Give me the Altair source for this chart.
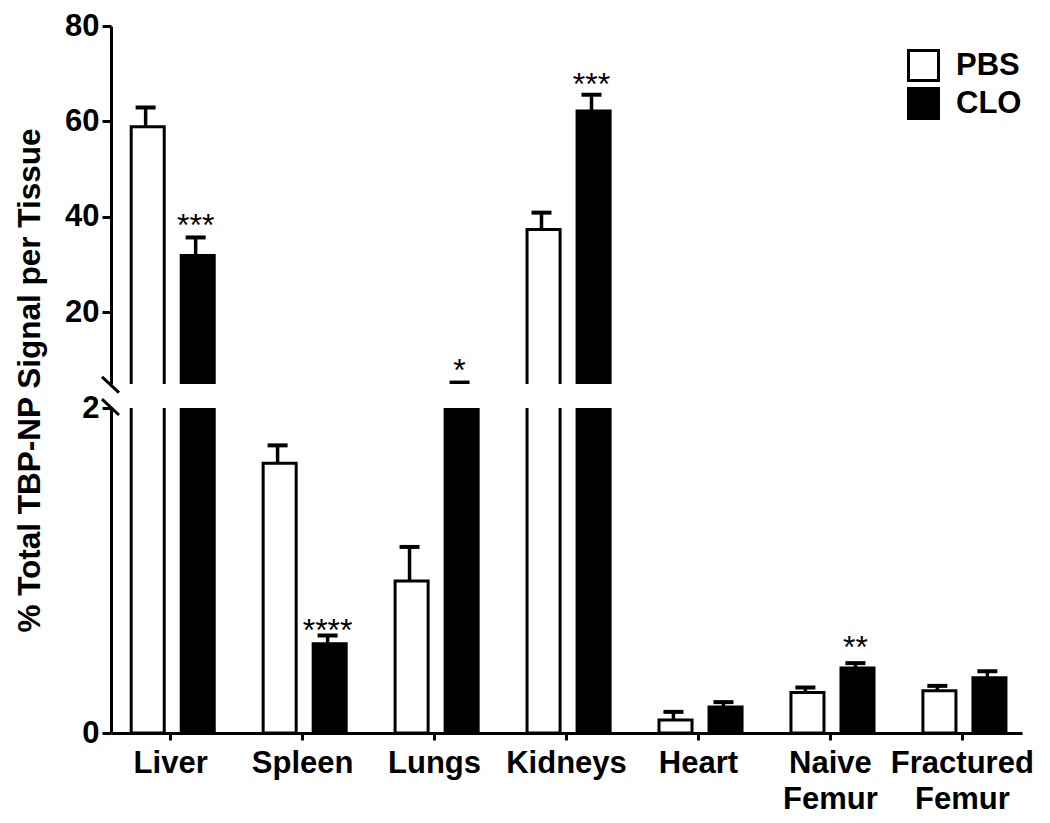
import altair as alt
import pandas as pd

categories = ["Liver", "Spleen", "Lungs", "Kidneys", "Heart", "Naive Femur", "Fractured Femur"]
groups = ["PBS", "CLO"]
pbs_mean = [58.9, 1.66, 0.935, 37.35, 0.08, 0.25, 0.26]
pbs_err = [4.0, 0.11, 0.21, 3.55, 0.05, 0.03, 0.03]
clo_mean = [31.9, 0.55, 3.5, 62.2, 0.16, 0.40, 0.34]
clo_err = [3.8, 0.05, 1.8, 3.4, 0.03, 0.03, 0.04]
clo_sig = ["***", "****", "*", "***", "", "**", ""]
clo_sig_pos = [39.8, 0.677, 9.4, 69.3, 0.0, 0.572, 0.0]

upper_ticks = [20, 40, 60, 80]
lower_ticks = [0, 1, 2]
upper_domain = [5, 80]
lower_domain = [0, 2]
y_title = "% Total TBP-NP Signal per Tissue"

rows = []
for i, c in enumerate(categories):
    rows.append(dict(tissue=c, group="PBS", mean=pbs_mean[i], top=pbs_mean[i] + pbs_err[i],
                     sig="", sigpos=0.0))
    rows.append(dict(tissue=c, group="CLO", mean=clo_mean[i], top=clo_mean[i] + clo_err[i],
                     sig=clo_sig[i], sigpos=clo_sig_pos[i]))
df = pd.DataFrame(rows)

FONT = "Liberation Sans"
W = 911


def panel(domain, height, ticks, lower, brk):
    yaxis = dict(values=ticks, format="d", grid=False, domainWidth=3, domainColor="black",
                 tickWidth=3, tickColor="black", tickSize=9, labelPadding=3, labelFontSize=31,
                 labelFont=FONT, labelFontWeight="bold", labelColor="black")
    if lower:
        yaxis["title"] = None
    else:
        yaxis.update(title=y_title, titleX=-72, titleY=354, titleAngle=270, titleAlign="center",
                     titleBaseline="alphabetic", titleFontSize=31.5, titleFont=FONT,
                     titleFontWeight="bold", titleColor="black")
    if lower:
        xaxis = alt.Axis(title=None, labelAngle=0, labelFontSize=31, labelFont=FONT,
                         labelFontWeight="bold", labelColor="black", domainWidth=3,
                         domainColor="black", tickWidth=3, tickColor="black", tickSize=7,
                         labelPadding=8, labelLineHeight=36,
                         labelExpr="split(datum.label, ' ')")
    else:
        xaxis = None
    yscale = alt.Scale(domain=domain, zero=False, nice=False)
    x = alt.X("tissue:N", sort=categories, axis=xaxis,
              scale=alt.Scale(paddingInner=0.348, paddingOuter=0.126))
    xo = alt.XOffset("group:N", sort=groups, scale=alt.Scale(paddingInner=0.28, paddingOuter=0))
    if lower:
        leg = None
    else:
        leg = alt.Legend(orient="none", legendX=796, legendY=23, title=None, symbolType="square",
                         symbolSize=900, symbolStrokeColor="black", symbolStrokeWidth=3,
                         labelFontSize=31, labelFont=FONT, labelFontWeight="bold",
                         labelColor="black", labelOffset=16, rowPadding=-7, padding=0)
    base = alt.Chart(df).encode(x=x, xOffset=xo)
    bars = base.mark_bar(stroke="black", strokeWidth=3, clip=True,
                         width=alt.RelativeBandSize(0.917)).encode(
        y=alt.Y("mean:Q", scale=yscale, axis=alt.Axis(**yaxis)),
        fill=alt.Fill("group:N", sort=groups,
                      scale=alt.Scale(domain=groups, range=["white", "black"]), legend=leg),
    )
    err = base.mark_rule(strokeWidth=3.5, color="black", clip=True).encode(
        y=alt.Y("mean:Q", scale=yscale), y2="top:Q")
    cap = base.mark_tick(size=20, thickness=4, color="black", clip=True, opacity=1).encode(
        y=alt.Y("top:Q", scale=yscale))
    stars = base.mark_text(fontSize=32, font=FONT, baseline="alphabetic", dy=18,
                           color="black", clip=True).encode(
        y=alt.Y("sigpos:Q", scale=yscale), text="sig:N"
    ).transform_filter(
        f"datum.sig != '' && datum.sigpos >= {domain[0]} && datum.sigpos <= {domain[1]}"
    )
    bdf = pd.DataFrame({"y": [brk[0]], "y2": [brk[1]]})
    slash = alt.Chart(bdf).mark_rule(strokeWidth=3, color="black", clip=False).encode(
        x=alt.value(-9), x2=alt.value(8),
        y=alt.Y("y:Q", scale=yscale), y2="y2:Q")
    return alt.layer(bars, err, cap, stars, slash).properties(width=W, height=height)


upper = panel(upper_domain, 358, upper_ticks, False, (6.5, 3.2))
lower = panel(lower_domain, 325, lower_ticks, True, (2.055, 1.957))

chart = alt.vconcat(upper, lower, spacing=24, bounds="flush").resolve_scale(
    fill="independent", y="independent"
).resolve_legend(fill="independent").properties(
    padding={"left": 5, "top": 2, "right": 0, "bottom": 0}
).configure(font=FONT).configure_view(stroke=None, strokeWidth=0)

chart.save("out.html", embed_options={"renderer": "svg", "actions": False})
